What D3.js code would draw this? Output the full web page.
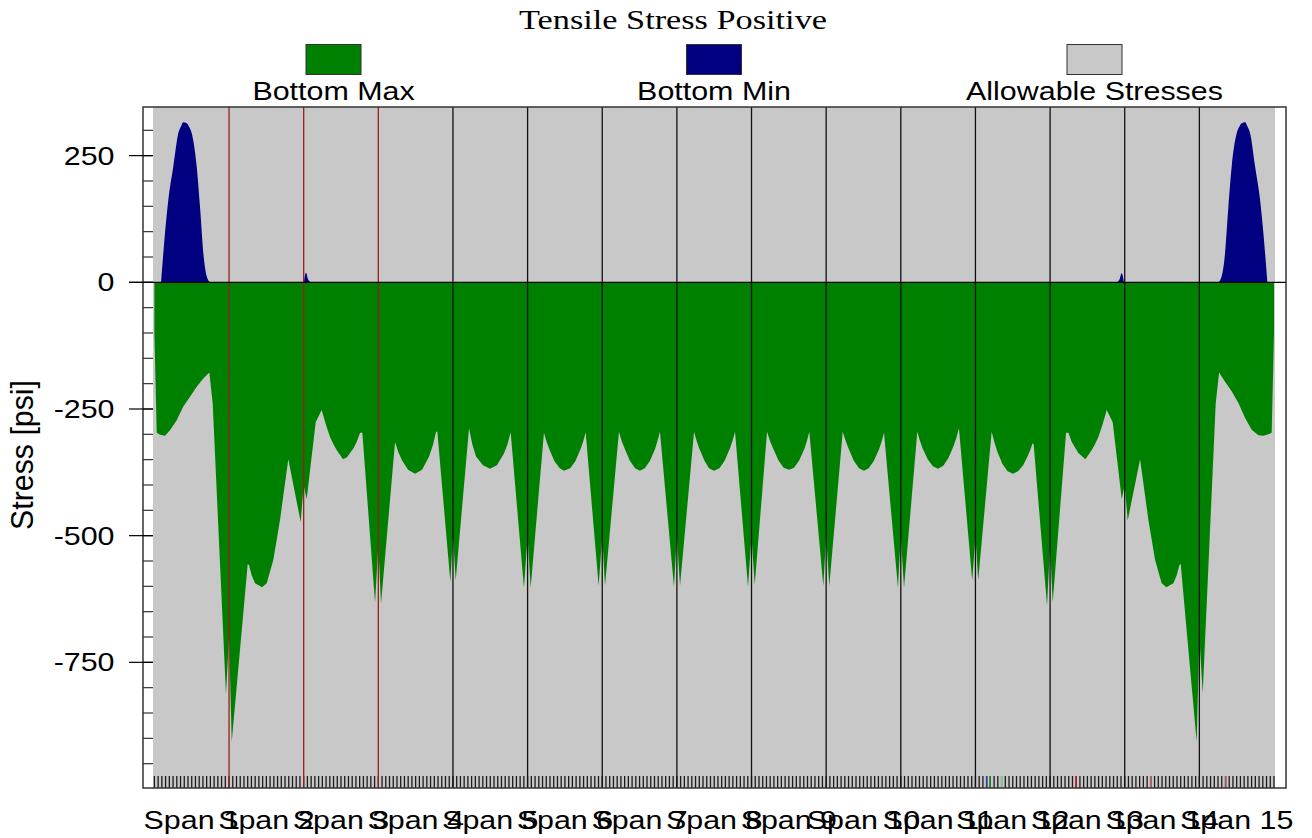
<!DOCTYPE html>
<html>
<head>
<meta charset="utf-8">
<script src="https://cdn.jsdelivr.net/npm/d3@7"></script>
<style>
  body { margin: 0; background: #fff; }
  svg { display: block; }
</style>
</head>
<body>
<script>
// span labels along the bottom
const spanLabels = ["Span 1", "Span 2", "Span 3", "Span 4", "Span 5", "Span 6", "Span 7", "Span 8",
  "Span 9", "Span 10", "Span 11", "Span 12", "Span 13", "Span 14", "Span 15"];

// interior supports (position in spans) and their line colour
const supports = [1, 2, 3, 4, 5, 6, 7, 8, 9, 10, 11, 12, 13, 14];
const supportColors = ["#9a1c1c", "#9a1c1c", "#9a1c1c", "#111", "#111", "#111", "#111",
  "#111", "#111", "#111", "#111", "#111", "#111", "#111"];

const yTicks = [250, 0, -250, -500, -750];

// Bottom Max stress [position in spans, psi]
const bottomMax = [
  [0.000, -100], [0.031, -297], [0.075, -301], [0.142, -303], [0.209, -292], [0.299, -272],
  [0.387, -245], [0.477, -226], [0.567, -206], [0.655, -190], [0.736, -178], [0.781, -239],
  [0.959, -813], [1.000, -700], [1.036, -907],
  [1.250, -556], [1.267, -558], [1.303, -578], [1.348, -594], [1.442, -602], [1.505, -594],
  [1.593, -548], [1.683, -469], [1.794, -349],
  [1.960, -473], [2.000, -400], [2.040, -428],
  [2.161, -276], [2.241, -252], [2.300, -282], [2.352, -305], [2.400, -320], [2.442, -331],
  [2.527, -349], [2.580, -345], [2.621, -337], [2.670, -327], [2.710, -315], [2.755, -297], [2.786, -297],
  [2.956, -632], [3.000, -520], [3.036, -635],
  [3.224, -315], [3.270, -336], [3.317, -351], [3.398, -370], [3.492, -378], [3.586, -370], [3.680, -344],
  [3.730, -322], [3.774, -295], [3.791, -295],
  [3.965, -591], [4.000, -500], [4.037, -588],
  [4.215, -288], [4.260, -320], [4.309, -344], [4.402, -361], [4.497, -368], [4.589, -361], [4.683, -338],
  [4.730, -320], [4.773, -296],
  [4.951, -603], [5.000, -500], [5.041, -603],
  [5.219, -297], [5.255, -315], [5.290, -329], [5.360, -353], [5.430, -367], [5.487, -372], [5.570, -367],
  [5.640, -353], [5.710, -329], [5.745, -314], [5.778, -296],
  [5.952, -599], [6.000, -500], [6.037, -599],
  [6.224, -295], [6.260, -313], [6.300, -328], [6.370, -352], [6.440, -367], [6.505, -372], [6.570, -367],
  [6.640, -352], [6.710, -328], [6.740, -313], [6.773, -295],
  [6.961, -601], [7.000, -500], [7.042, -599],
  [7.230, -295], [7.265, -313], [7.300, -328], [7.370, -352], [7.430, -367], [7.498, -372], [7.570, -367],
  [7.640, -352], [7.710, -328], [7.745, -313], [7.779, -295],
  [7.953, -601], [8.000, -500], [8.043, -597],
  [8.208, -295], [8.250, -314], [8.290, -328], [8.360, -351], [8.430, -366], [8.502, -370], [8.570, -366],
  [8.640, -351], [8.710, -328], [8.742, -313], [8.774, -295],
  [8.962, -599], [9.000, -500], [9.042, -599],
  [9.222, -295], [9.262, -313], [9.300, -328], [9.370, -352], [9.440, -367], [9.507, -372], [9.570, -367],
  [9.640, -352], [9.710, -329], [9.743, -314], [9.775, -297],
  [9.962, -603], [10.000, -500], [10.043, -603],
  [10.221, -295], [10.255, -312], [10.290, -327], [10.360, -349], [10.430, -363], [10.498, -368], [10.570, -362],
  [10.640, -346], [10.710, -322], [10.745, -307], [10.779, -288],
  [10.957, -589], [11.000, -500], [11.037, -588],
  [11.217, -295], [11.255, -316], [11.290, -333], [11.360, -358], [11.430, -373], [11.503, -378], [11.570, -373],
  [11.640, -361], [11.700, -343], [11.735, -331], [11.767, -317], [11.780, -320],
  [11.959, -638], [12.000, -520], [12.035, -632],
  [12.214, -297], [12.245, -297], [12.290, -315], [12.379, -337], [12.473, -349], [12.558, -331],
  [12.600, -320], [12.648, -305], [12.700, -282], [12.759, -252], [12.839, -276],
  [12.960, -428], [13.000, -400], [13.040, -470],
  [13.206, -349], [13.317, -469], [13.407, -548], [13.495, -594], [13.558, -602], [13.652, -594],
  [13.697, -578], [13.733, -558], [13.750, -556],
  [13.964, -907], [14.000, -700], [14.045, -811],
  [14.219, -239], [14.264, -178], [14.344, -196], [14.433, -215], [14.523, -238], [14.613, -268],
  [14.701, -291], [14.791, -302], [14.858, -303], [14.925, -300], [14.969, -297], [15.000, -100]
];

// Bottom Min stress, only the positive humps [position in spans, psi]
const bottomMinLeft = [
  [0.089, 0], [0.142, 97], [0.186, 162], [0.253, 228], [0.320, 294], [0.360, 309], [0.387, 316],
  [0.433, 314], [0.465, 307], [0.500, 294], [0.567, 228], [0.611, 149], [0.665, 44], [0.701, 12],
  [0.745, 0]
];
const bottomMinSupport2 = [[2.004, 0], [2.031, 19], [2.058, 6], [2.098, 0]];
const bottomMinSupport13 = [[12.901, 0], [12.931, 6], [12.959, 18], [12.990, 0]];
const bottomMinRight = [
  [14.255, 0], [14.299, 12], [14.335, 44], [14.389, 149], [14.433, 228], [14.500, 294], [14.535, 307],
  [14.567, 314], [14.613, 316], [14.640, 309], [14.680, 294], [14.747, 228], [14.814, 162],
  [14.858, 97], [14.911, 0]
];

// coloured station marks on the bottom axis
const stationMarks = [
  [11.150, "#3a3aa8"], [11.195, "#1f9a1f"], [11.352, "#7fcf7f"],
  [12.347, "#c42020"], [13.348, "#b86060"], [14.356, "#b86060"]
];

const legendItems = [
  { label: "Bottom Max", color: "#008000", cx: 333.5 },
  { label: "Bottom Min", color: "#000080", cx: 714 },
  { label: "Allowable Stresses", color: "#c8c8c8", cx: 1094.5 }
];

const width = 1312, height = 838;
const plot = { left: 143, right: 1286, top: 107, bottom: 788 };
const sx = 1.17; // horizontal stretch of the text

const svg = d3.select("body").append("svg")
  .attr("width", width)
  .attr("height", height)
  .style("font-family", "Arial, 'Liberation Sans', sans-serif");

const x = d3.scaleLinear().domain([0, 15]).range([154.4, 1274]);
const y = d3.scaleLinear().domain([-998, 346]).range([plot.bottom, plot.top]);

// allowable stress band (grey background)
svg.append("rect")
  .attr("x", x(0) - 1.4)
  .attr("y", plot.top)
  .attr("width", x(15) - x(0) + 2.4)
  .attr("height", plot.bottom - plot.top)
  .attr("fill", "#c8c8c8");

// dense station ticks along the bottom
const g = svg.append("g");
g.selectAll("line.st")
  .data(d3.range(0, 301).map(i => i / 20))
  .join("line")
  .attr("class", "st")
  .attr("x1", d => x(d)).attr("x2", d => x(d))
  .attr("y1", plot.bottom - 12).attr("y2", plot.bottom)
  .attr("stroke", "#1a1a1a")
  .attr("stroke-width", 1.3);

g.selectAll("line.mark")
  .data(stationMarks)
  .join("line")
  .attr("class", "mark")
  .attr("x1", d => x(d[0])).attr("x2", d => x(d[0]))
  .attr("y1", plot.bottom - 12).attr("y2", plot.bottom)
  .attr("stroke", d => d[1])
  .attr("stroke-width", 1.6);

const area = d3.area()
  .x(d => x(d[0]))
  .y0(y(0))
  .y1(d => y(d[1]));

const smoothArea = d3.area()
  .x(d => x(d[0]))
  .y0(y(0))
  .y1(d => y(d[1]))
  .curve(d3.curveMonotoneX);

[bottomMinLeft, bottomMinSupport2, bottomMinSupport13, bottomMinRight].forEach(s => {
  g.append("path").datum(s).attr("d", smoothArea).attr("fill", "#000080");
});

g.append("path").datum(bottomMax).attr("d", area).attr("fill", "#008000");

// support lines
g.selectAll("line.sup")
  .data(supports)
  .join("line")
  .attr("class", "sup")
  .attr("x1", d => x(d)).attr("x2", d => x(d))
  .attr("y1", plot.top).attr("y2", plot.bottom)
  .attr("stroke", (d, i) => supportColors[i])
  .attr("stroke-width", 1.3);

// zero line
svg.append("line")
  .attr("x1", 129).attr("x2", plot.right)
  .attr("y1", y(0)).attr("y2", y(0))
  .attr("stroke", "#000")
  .attr("stroke-width", 1.3);

// frame
svg.append("rect")
  .attr("x", plot.left).attr("y", plot.top)
  .attr("width", plot.right - plot.left)
  .attr("height", plot.bottom - plot.top)
  .attr("fill", "none")
  .attr("stroke", "#333")
  .attr("stroke-width", 1.5);

// y minor ticks every 50
svg.selectAll("line.ymin")
  .data(d3.range(-950, 301, 50))
  .join("line")
  .attr("class", "ymin")
  .attr("x1", plot.left).attr("x2", x(0) - 1.4)
  .attr("y1", d => y(d)).attr("y2", d => y(d))
  .attr("stroke", "#333")
  .attr("stroke-width", 1.2);

// y major ticks and labels
svg.selectAll("line.ymaj")
  .data(yTicks)
  .join("line")
  .attr("class", "ymaj")
  .attr("x1", 129).attr("x2", x(0) - 1.4)
  .attr("y1", d => y(d)).attr("y2", d => y(d))
  .attr("stroke", "#000")
  .attr("stroke-width", 1.2);

svg.selectAll("text.ylab")
  .data(yTicks)
  .join("text")
  .attr("class", "ylab")
  .attr("transform", d => `translate(114.5,${y(d)}) scale(${sx},1)`)
  .attr("text-anchor", "end")
  .attr("dy", "0.35em")
  .style("font-size", "26px")
  .text(d => d);

// y axis title
svg.append("text")
  .attr("transform", `translate(33,455) scale(${sx},1) rotate(-90)`)
  .attr("text-anchor", "middle")
  .attr("textLength", 150)
  .attr("lengthAdjust", "spacingAndGlyphs")
  .style("font-size", "27px")
  .text("Stress [psi]");

// x labels
svg.selectAll("text.xlab")
  .data(spanLabels)
  .join("text")
  .attr("class", "xlab")
  .attr("transform", (d, i) => `translate(${x(i + 0.5)},829) scale(${sx},1)`)
  .attr("text-anchor", "middle")
  .style("font-size", "26px")
  .text(d => d);

// title
svg.append("text")
  .attr("x", 673)
  .attr("y", 29)
  .attr("text-anchor", "middle")
  .attr("textLength", 308)
  .attr("lengthAdjust", "spacingAndGlyphs")
  .style("font-family", "'Liberation Serif', 'Times New Roman', serif")
  .style("font-size", "27px")
  .text("Tensile Stress Positive");

// legend
const leg = svg.selectAll("g.leg")
  .data(legendItems)
  .join("g")
  .attr("class", "leg");

leg.append("rect")
  .attr("x", d => d.cx - 27.5)
  .attr("y", 44.5)
  .attr("width", 55)
  .attr("height", 30)
  .attr("fill", d => d.color)
  .attr("stroke", "#333")
  .attr("stroke-width", 1);

leg.append("text")
  .attr("transform", d => `translate(${d.cx},100) scale(${sx},1)`)
  .attr("text-anchor", "middle")
  .style("font-size", "26px")
  .text(d => d.label);
</script>
</body>
</html>
